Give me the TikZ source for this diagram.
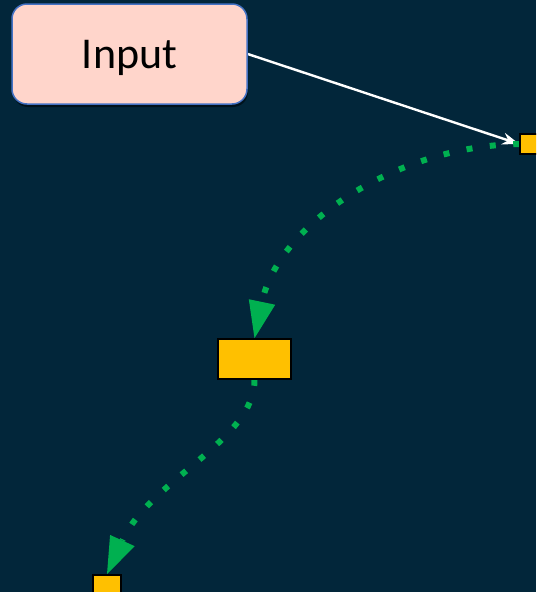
\documentclass[tikz,border=0pt]{standalone}
\usepackage{fontspec}
\setmainfont{Carlito}
\usetikzlibrary{arrows.meta,shadows,backgrounds}
\definecolor{bgnavy}{RGB}{2,38,58}
\definecolor{inputfill}{RGB}{255,213,203}
\definecolor{inputborder}{RGB}{68,114,196}
\definecolor{boxgold}{RGB}{255,192,0}
\definecolor{dotgreen}{RGB}{0,176,80}
\tikzset{
  inputbox/.style={draw=inputborder, line width=1.5pt, fill=inputfill, rounded corners=15pt,
    minimum width=235pt, minimum height=100pt, inner sep=0pt, text depth=0pt,
    font=\fontsize{44}{53}\selectfont,
    drop shadow={shadow xshift=1pt, shadow yshift=-3pt, opacity=0.5, fill=black}},
  goldbox/.style={draw=black, line width=1.6pt, fill=boxgold, inner sep=0pt},
  whitearrow/.style={draw=white, line width=2.4pt, -{Stealth[length=17pt,width=12pt]}},
  greendots/.style={draw=dotgreen, line width=6pt, dash pattern=on 6pt off 17.5pt,
    -{Triangle[length=37pt,width=27pt,line width=0pt]}}
}
\begin{document}
\begin{tikzpicture}[x=1pt,y=1pt]
\useasboundingbox (0,0) rectangle (536,-592);
\clip (0,0) rectangle (536,-592);
\node[inputbox] (input) at (129.5,-54) {Input};
\node[goldbox, minimum width=30pt, minimum height=20pt] (rbox) at (535,-144) {};
\node[goldbox, minimum width=73pt, minimum height=40pt] (mbox) at (254.5,-359) {};
\node[goldbox, minimum width=28pt, minimum height=20pt] (bbox) at (107,-585) {};
\begin{pgfonlayer}{background}
\fill[bgnavy] (0,0) rectangle (536,-592);
\draw[whitearrow] (input.east) -- (rbox.west);
\draw[greendots] (rbox.west) .. controls (395,-146) and (278,-225) .. (mbox.north);
\draw[greendots] (mbox.south) .. controls (255,-440) and (150,-480) .. (bbox.north);
\end{pgfonlayer}
\end{tikzpicture}
\end{document}
